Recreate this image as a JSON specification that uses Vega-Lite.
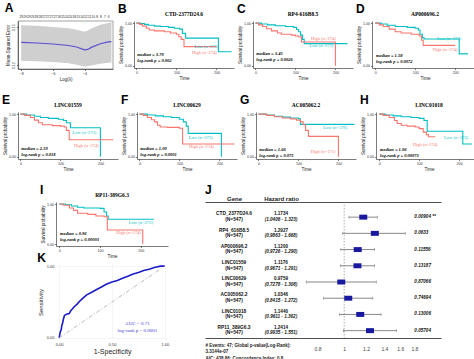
{
"$schema": "https://vega.github.io/schema/vega-lite/v6.json",
"background": "white",
"padding": {"left": 2, "top": 2, "right": 2, "bottom": 2},
"config": {
  "view": {"stroke": null},
  "font": "Liberation Sans",
  "axis": {"labelFontSize": 3.6, "titleFontSize": 4.5, "tickSize": 1.5, "labelPadding": 1, "titlePadding": 1.5, "domainWidth": 0.6, "tickWidth": 0.6, "domainColor": "#222", "tickColor": "#222", "labelColor": "#333", "titleColor": "#222", "titleFontWeight": "normal", "grid": false, "labelFlush": false, "labelOverlap": false}
},
"datasets": {
  "lasso": [
    {"l": -8.0, "m": 0.1380, "lo": 0.1235, "hi": 0.1517},
    {"l": -7.0, "m": 0.1376, "lo": 0.1232, "hi": 0.1512},
    {"l": -6.0, "m": 0.1368, "lo": 0.1226, "hi": 0.1503},
    {"l": -5.0, "m": 0.1356, "lo": 0.1215, "hi": 0.1492},
    {"l": -4.5, "m": 0.1344, "lo": 0.1203, "hi": 0.1480},
    {"l": -4.0, "m": 0.1322, "lo": 0.1190, "hi": 0.1465},
    {"l": -3.8, "m": 0.1325, "lo": 0.1192, "hi": 0.1475},
    {"l": -3.5, "m": 0.1345, "lo": 0.1200, "hi": 0.1495},
    {"l": -3.0, "m": 0.1370, "lo": 0.1212, "hi": 0.1520},
    {"l": -2.5, "m": 0.1385, "lo": 0.1220, "hi": 0.1535},
    {"l": -2.3, "m": 0.1387, "lo": 0.1222, "hi": 0.1540}
  ],
  "lassoN": [
    {"l": -8.0, "n": 29}, {"l": -7.76, "n": 29}, {"l": -7.52, "n": 29}, {"l": -7.28, "n": 29},
    {"l": -7.04, "n": 28}, {"l": -6.8, "n": 28}, {"l": -6.56, "n": 27}, {"l": -6.32, "n": 27},
    {"l": -6.08, "n": 27}, {"l": -5.84, "n": 27}, {"l": -5.6, "n": 26}, {"l": -5.36, "n": 25},
    {"l": -5.12, "n": 24}, {"l": -4.88, "n": 20}, {"l": -4.64, "n": 18}, {"l": -4.4, "n": 15},
    {"l": -4.16, "n": 14}, {"l": -3.92, "n": 12}, {"l": -3.68, "n": 11}, {"l": -3.44, "n": 10},
    {"l": -3.2, "n": 8}, {"l": -2.96, "n": 8}, {"l": -2.72, "n": 7}, {"l": -2.48, "n": 6}
  ],
  "kmB": [
    {"t": 0, "s": 1, "g": "Low"}, {"t": 10, "s": 0.99, "g": "Low"}, {"t": 20, "s": 0.97, "g": "Low"}, {"t": 30, "s": 0.95, "g": "Low"}, {"t": 45, "s": 0.93, "g": "Low"}, {"t": 60, "s": 0.92, "g": "Low"}, {"t": 80, "s": 0.9, "g": "Low"}, {"t": 95, "s": 0.88, "g": "Low"}, {"t": 108, "s": 0.86, "g": "Low"}, {"t": 115, "s": 0.76, "g": "Low"}, {"t": 123, "s": 0.65, "g": "Low"}, {"t": 205, "s": 0.33, "g": "Low"}, {"t": 238, "s": 0.33, "g": "Low"},
    {"t": 0, "s": 1, "g": "High"}, {"t": 8, "s": 0.97, "g": "High"}, {"t": 15, "s": 0.93, "g": "High"}, {"t": 25, "s": 0.88, "g": "High"}, {"t": 32, "s": 0.84, "g": "High"}, {"t": 45, "s": 0.82, "g": "High"}, {"t": 70, "s": 0.8, "g": "High"}, {"t": 85, "s": 0.77, "g": "High"}, {"t": 100, "s": 0.74, "g": "High"}, {"t": 106, "s": 0.68, "g": "High"}, {"t": 112, "s": 0.62, "g": "High"}, {"t": 119, "s": 0.45, "g": "High"}, {"t": 200, "s": 0.45, "g": "High"}
  ],
  "kmC": [
    {"t": 0, "s": 1, "g": "Low"}, {"t": 15, "s": 0.98, "g": "Low"}, {"t": 30, "s": 0.96, "g": "Low"}, {"t": 50, "s": 0.94, "g": "Low"}, {"t": 75, "s": 0.92, "g": "Low"}, {"t": 95, "s": 0.9, "g": "Low"}, {"t": 103, "s": 0.85, "g": "Low"}, {"t": 108, "s": 0.8, "g": "Low"}, {"t": 113, "s": 0.72, "g": "Low"}, {"t": 118, "s": 0.62, "g": "Low"}, {"t": 122, "s": 0.52, "g": "Low"}, {"t": 230, "s": 0.52, "g": "Low"},
    {"t": 0, "s": 1, "g": "High"}, {"t": 8, "s": 0.96, "g": "High"}, {"t": 18, "s": 0.92, "g": "High"}, {"t": 28, "s": 0.87, "g": "High"}, {"t": 40, "s": 0.82, "g": "High"}, {"t": 55, "s": 0.77, "g": "High"}, {"t": 65, "s": 0.74, "g": "High"}, {"t": 90, "s": 0.72, "g": "High"}, {"t": 100, "s": 0.7, "g": "High"}, {"t": 108, "s": 0.68, "g": "High"}, {"t": 115, "s": 0.56, "g": "High"}, {"t": 200, "s": 0, "g": "High"}
  ],
  "kmD": [
    {"t": 0, "s": 1, "g": "Low"}, {"t": 15, "s": 0.98, "g": "Low"}, {"t": 30, "s": 0.95, "g": "Low"}, {"t": 50, "s": 0.92, "g": "Low"}, {"t": 80, "s": 0.9, "g": "Low"}, {"t": 100, "s": 0.88, "g": "Low"}, {"t": 108, "s": 0.84, "g": "Low"}, {"t": 112, "s": 0.74, "g": "Low"}, {"t": 118, "s": 0.66, "g": "Low"}, {"t": 122, "s": 0.63, "g": "Low"}, {"t": 210, "s": 0.28, "g": "Low"}, {"t": 232, "s": 0.28, "g": "Low"},
    {"t": 0, "s": 1, "g": "High"}, {"t": 10, "s": 0.96, "g": "High"}, {"t": 20, "s": 0.92, "g": "High"}, {"t": 35, "s": 0.86, "g": "High"}, {"t": 50, "s": 0.8, "g": "High"}, {"t": 65, "s": 0.77, "g": "High"}, {"t": 90, "s": 0.74, "g": "High"}, {"t": 110, "s": 0.7, "g": "High"}, {"t": 116, "s": 0.6, "g": "High"}, {"t": 120, "s": 0.48, "g": "High"}, {"t": 200, "s": 0.48, "g": "High"}
  ],
  "kmE": [
    {"t": 0, "s": 1, "g": "Low"}, {"t": 15, "s": 0.98, "g": "Low"}, {"t": 35, "s": 0.95, "g": "Low"}, {"t": 50, "s": 0.92, "g": "Low"}, {"t": 70, "s": 0.9, "g": "Low"}, {"t": 95, "s": 0.88, "g": "Low"}, {"t": 108, "s": 0.85, "g": "Low"}, {"t": 115, "s": 0.8, "g": "Low"}, {"t": 125, "s": 0.68, "g": "Low"}, {"t": 200, "s": 0, "g": "Low"},
    {"t": 0, "s": 1, "g": "High"}, {"t": 10, "s": 0.97, "g": "High"}, {"t": 25, "s": 0.92, "g": "High"}, {"t": 35, "s": 0.86, "g": "High"}, {"t": 45, "s": 0.8, "g": "High"}, {"t": 55, "s": 0.75, "g": "High"}, {"t": 80, "s": 0.73, "g": "High"}, {"t": 100, "s": 0.72, "g": "High"}, {"t": 110, "s": 0.7, "g": "High"}, {"t": 115, "s": 0.62, "g": "High"}, {"t": 122, "s": 0.4, "g": "High"}, {"t": 232, "s": 0.4, "g": "High"}
  ],
  "kmF": [
    {"t": 0, "s": 1, "g": "Low"}, {"t": 20, "s": 0.98, "g": "Low"}, {"t": 40, "s": 0.96, "g": "Low"}, {"t": 60, "s": 0.94, "g": "Low"}, {"t": 80, "s": 0.92, "g": "Low"}, {"t": 100, "s": 0.88, "g": "Low"}, {"t": 110, "s": 0.82, "g": "Low"}, {"t": 117, "s": 0.72, "g": "Low"}, {"t": 122, "s": 0.55, "g": "Low"}, {"t": 205, "s": 0, "g": "Low"},
    {"t": 0, "s": 1, "g": "High"}, {"t": 10, "s": 0.97, "g": "High"}, {"t": 20, "s": 0.92, "g": "High"}, {"t": 30, "s": 0.87, "g": "High"}, {"t": 38, "s": 0.82, "g": "High"}, {"t": 45, "s": 0.74, "g": "High"}, {"t": 52, "s": 0.7, "g": "High"}, {"t": 70, "s": 0.69, "g": "High"}, {"t": 100, "s": 0.67, "g": "High"}, {"t": 108, "s": 0.3, "g": "High"}, {"t": 238, "s": 0.3, "g": "High"}
  ],
  "kmG": [
    {"t": 0, "s": 1, "g": "Low"}, {"t": 20, "s": 0.98, "g": "Low"}, {"t": 40, "s": 0.95, "g": "Low"}, {"t": 60, "s": 0.93, "g": "Low"}, {"t": 80, "s": 0.91, "g": "Low"}, {"t": 100, "s": 0.89, "g": "Low"}, {"t": 105, "s": 0.76, "g": "Low"}, {"t": 240, "s": 0.76, "g": "Low"},
    {"t": 0, "s": 1, "g": "High"}, {"t": 20, "s": 0.97, "g": "High"}, {"t": 40, "s": 0.94, "g": "High"}, {"t": 60, "s": 0.91, "g": "High"}, {"t": 80, "s": 0.89, "g": "High"}, {"t": 95, "s": 0.86, "g": "High"}, {"t": 105, "s": 0.82, "g": "High"}, {"t": 112, "s": 0.75, "g": "High"}, {"t": 118, "s": 0.62, "g": "High"}, {"t": 125, "s": 0.48, "g": "High"}, {"t": 200, "s": 0, "g": "High"}
  ],
  "kmH": [
    {"t": 0, "s": 1, "g": "Low"}, {"t": 15, "s": 0.98, "g": "Low"}, {"t": 35, "s": 0.96, "g": "Low"}, {"t": 55, "s": 0.94, "g": "Low"}, {"t": 80, "s": 0.92, "g": "Low"}, {"t": 100, "s": 0.9, "g": "Low"}, {"t": 112, "s": 0.85, "g": "Low"}, {"t": 120, "s": 0.6, "g": "Low"}, {"t": 209, "s": 0.3, "g": "Low"}, {"t": 232, "s": 0.3, "g": "Low"},
    {"t": 0, "s": 1, "g": "High"}, {"t": 10, "s": 0.97, "g": "High"}, {"t": 25, "s": 0.92, "g": "High"}, {"t": 38, "s": 0.85, "g": "High"}, {"t": 45, "s": 0.78, "g": "High"}, {"t": 55, "s": 0.74, "g": "High"}, {"t": 70, "s": 0.72, "g": "High"}, {"t": 90, "s": 0.7, "g": "High"}, {"t": 100, "s": 0.66, "g": "High"}, {"t": 110, "s": 0.58, "g": "High"}, {"t": 118, "s": 0.52, "g": "High"}, {"t": 123, "s": 0.47, "g": "High"}, {"t": 140, "s": 0.47, "g": "High"}
  ],
  "kmI": [
    {"t": 0, "s": 1, "g": "Low"}, {"t": 15, "s": 0.98, "g": "Low"}, {"t": 30, "s": 0.95, "g": "Low"}, {"t": 45, "s": 0.92, "g": "Low"}, {"t": 60, "s": 0.9, "g": "Low"}, {"t": 100, "s": 0.89, "g": "Low"}, {"t": 110, "s": 0.8, "g": "Low"}, {"t": 116, "s": 0.7, "g": "Low"}, {"t": 120, "s": 0.62, "g": "Low"}, {"t": 232, "s": 0.62, "g": "Low"},
    {"t": 0, "s": 1, "g": "High"}, {"t": 10, "s": 0.97, "g": "High"}, {"t": 25, "s": 0.9, "g": "High"}, {"t": 35, "s": 0.84, "g": "High"}, {"t": 45, "s": 0.77, "g": "High"}, {"t": 70, "s": 0.74, "g": "High"}, {"t": 90, "s": 0.7, "g": "High"}, {"t": 110, "s": 0.68, "g": "High"}, {"t": 118, "s": 0.35, "g": "High"}, {"t": 205, "s": 0, "g": "High"}
  ],
  "roc": [
    {"fpr": 0, "tpr": 0}, {"fpr": 0.005, "tpr": 0.04}, {"fpr": 0.01, "tpr": 0.08}, {"fpr": 0.02, "tpr": 0.12}, {"fpr": 0.025, "tpr": 0.17}, {"fpr": 0.035, "tpr": 0.22}, {"fpr": 0.04, "tpr": 0.26}, {"fpr": 0.05, "tpr": 0.31}, {"fpr": 0.07, "tpr": 0.33}, {"fpr": 0.095, "tpr": 0.34}, {"fpr": 0.11, "tpr": 0.38}, {"fpr": 0.14, "tpr": 0.43}, {"fpr": 0.17, "tpr": 0.47}, {"fpr": 0.2, "tpr": 0.52}, {"fpr": 0.23, "tpr": 0.56}, {"fpr": 0.26, "tpr": 0.6}, {"fpr": 0.3, "tpr": 0.63}, {"fpr": 0.35, "tpr": 0.67}, {"fpr": 0.4, "tpr": 0.71}, {"fpr": 0.45, "tpr": 0.75}, {"fpr": 0.5, "tpr": 0.78}, {"fpr": 0.55, "tpr": 0.8}, {"fpr": 0.6, "tpr": 0.83}, {"fpr": 0.65, "tpr": 0.86}, {"fpr": 0.7, "tpr": 0.89}, {"fpr": 0.75, "tpr": 0.91}, {"fpr": 0.8, "tpr": 0.94}, {"fpr": 0.86, "tpr": 0.96}, {"fpr": 0.9, "tpr": 0.98}, {"fpr": 0.96, "tpr": 1}, {"fpr": 1, "tpr": 1}
  ],
  "diag": [{"fpr": 0, "tpr": 0}, {"fpr": 1, "tpr": 1}],
  "forest": [
    {"gene": "CTD_2377D24.6", "n": "(N=547)", "hr": "1.1734", "ci": "(1.0406 - 1.323)", "p": "0.00904 **", "est": 1.1734, "lo": 1.0406, "hi": 1.323},
    {"gene": "RP4_616B8.5", "n": "(N=547)", "hr": "1.2927", "ci": "(0.9863 - 1.668)", "p": "0.0633", "est": 1.2927, "lo": 0.9863, "hi": 1.668},
    {"gene": "AP000696.2", "n": "(N=547)", "hr": "1.1200", "ci": "(0.9726 - 1.290)", "p": "0.11556", "est": 1.12, "lo": 0.9726, "hi": 1.29},
    {"gene": "LINC01559", "n": "(N=547)", "hr": "1.1176", "ci": "(0.9671 - 1.291)", "p": "0.13187", "est": 1.1176, "lo": 0.9671, "hi": 1.291},
    {"gene": "LINC00629", "n": "(N=547)", "hr": "0.9759", "ci": "(0.7278 - 1.308)", "p": "0.87066", "est": 0.9759, "lo": 0.7278, "hi": 1.308},
    {"gene": "AC005062.2", "n": "(N=547)", "hr": "1.0346", "ci": "(0.8415 - 1.272)", "p": "0.74694", "est": 1.0346, "lo": 0.8415, "hi": 1.272},
    {"gene": "LINC01018", "n": "(N=547)", "hr": "1.1440", "ci": "(0.9611 - 1.362)", "p": "0.13006", "est": 1.144, "lo": 0.9611, "hi": 1.362},
    {"gene": "RP11_389G6.3", "n": "(N=547)", "hr": "1.2414", "ci": "(0.9935 - 1.551)", "p": "0.05704", "est": 1.2414, "lo": 0.9935, "hi": 1.551}
  ]
},
"spacing": 12,
"vconcat": [
 {"hconcat": [
  {"title": {"text": "A", "anchor": "start", "fontSize": 12, "fontWeight": "bold", "offset": -1},
   "vconcat": [
    {"width": 95, "height": 48, "view": {"stroke": "#444", "strokeWidth": 0.5},
     "layer": [
      {"data": {"name": "lasso"}, "mark": {"type": "area", "color": "#cfcfcf", "opacity": 1},
       "encoding": {"x": {"field": "l", "type": "quantitative", "scale": {"domain": [-8.2, -2.2], "nice": false, "zero": false}, "axis": {"values": [-8, -7, -6, -5, -4, -3], "title": "Log(λ)"}},
        "y": {"field": "lo", "type": "quantitative", "scale": {"domain": [0.117, 0.155], "nice": false, "zero": false}, "axis": {"values": [0.12, 0.13, 0.14, 0.15], "format": ".2f", "labelAngle": 270, "title": "Mean-Squared Error"}},
        "y2": {"field": "hi"}}},
      {"data": {"name": "lasso"}, "mark": {"type": "line", "color": "#5b4fd1", "strokeWidth": 1.2},
       "encoding": {"x": {"field": "l", "type": "quantitative"}, "y": {"field": "m", "type": "quantitative"}}},
      {"data": {"name": "lassoN"}, "mark": {"type": "text", "fontSize": 3.2, "color": "#222", "clip": false},
       "encoding": {"x": {"field": "l", "type": "quantitative"}, "y": {"datum": 0.1585}, "text": {"field": "n", "type": "quantitative"}}}
     ]}
   ]},
  {"title": {"text": "B", "anchor": "start", "fontSize": 12, "fontWeight": "bold", "offset": -4},
   "vconcat": [{"width": 100, "height": 47, "title": {"text": "CTD-2377D24.6", "anchor": "middle", "font": "Liberation Serif", "fontSize": 5.5, "fontWeight": "bold", "offset": 3},
    "layer": [
     {"data": {"name": "kmB"}, "mark": {"type": "line", "interpolate": "step-after", "strokeWidth": 1.1},
      "encoding": {"x": {"field": "t", "type": "quantitative", "scale": {"domain": [-6, 244], "nice": false, "zero": false}, "axis": {"values": [0, 50, 100, 150, 200], "title": "Time"}},
       "y": {"field": "s", "type": "quantitative", "scale": {"domain": [-0.05, 1.05], "nice": false}, "axis": {"values": [0, 0.25, 0.5, 0.75, 1], "format": ".2f", "title": "Survival probability"}},
       "color": {"field": "g", "type": "nominal", "scale": {"domain": ["High", "Low"], "range": ["#F8766D", "#00BFC4"]}, "legend": null}}},
     {"data": {"values": [{}]}, "mark": {"type": "text", "align": "left", "font": "Liberation Serif", "fontStyle": "italic", "fontWeight": "bold", "fontSize": 4.5, "lineHeight": 6},
      "encoding": {"x": {"datum": 2}, "y": {"datum": 0.25}, "text": {"value": ["median = 3.70", "log-rank p = 0.002"]}}},
     {"data": {"values": [{}]}, "mark": {"type": "text", "font": "Liberation Serif", "fontSize": 4.5, "color": "#00BFC4"},
      "encoding": {"x": {"datum": 175}, "y": {"datum": 0.45}, "text": {"value": "Low (n=273)"}}},
     {"data": {"values": [{}]}, "mark": {"type": "text", "font": "Liberation Serif", "fontSize": 4.5, "color": "#F8766D"},
      "encoding": {"x": {"datum": 170}, "y": {"datum": 0.3}, "text": {"value": "High (n=274)"}}}
    ]}]},
  {"title": {"text": "C", "anchor": "start", "fontSize": 12, "fontWeight": "bold", "offset": -4},
   "vconcat": [{"width": 100, "height": 47, "title": {"text": "RP4-616B8.5", "anchor": "middle", "font": "Liberation Serif", "fontSize": 5.5, "fontWeight": "bold", "offset": 3},
    "layer": [
     {"data": {"name": "kmC"}, "mark": {"type": "line", "interpolate": "step-after", "strokeWidth": 1.1},
      "encoding": {"x": {"field": "t", "type": "quantitative", "scale": {"domain": [-6, 244], "nice": false, "zero": false}, "axis": {"values": [0, 50, 100, 150, 200], "title": "Time"}},
       "y": {"field": "s", "type": "quantitative", "scale": {"domain": [-0.05, 1.05], "nice": false}, "axis": {"values": [0, 0.25, 0.5, 0.75, 1], "format": ".2f", "title": "Survival probability"}},
       "color": {"field": "g", "type": "nominal", "scale": {"domain": ["High", "Low"], "range": ["#F8766D", "#00BFC4"]}, "legend": null}}},
     {"data": {"values": [{}]}, "mark": {"type": "text", "align": "left", "font": "Liberation Serif", "fontStyle": "italic", "fontWeight": "bold", "fontSize": 4.5, "lineHeight": 6},
      "encoding": {"x": {"datum": 2}, "y": {"datum": 0.27}, "text": {"value": ["median = 3.45", "log-rank p = 0.0026"]}}},
     {"data": {"values": [{}]}, "mark": {"type": "text", "font": "Liberation Serif", "fontSize": 4.5, "color": "#F8766D"},
      "encoding": {"x": {"datum": 170}, "y": {"datum": 0.63}, "text": {"value": "High (n=274)"}}},
     {"data": {"values": [{}]}, "mark": {"type": "text", "font": "Liberation Serif", "fontSize": 4.5, "color": "#00BFC4"},
      "encoding": {"x": {"datum": 165}, "y": {"datum": 0.46}, "text": {"value": "Low (n=273)"}}}
    ]}]},
  {"title": {"text": "D", "anchor": "start", "fontSize": 12, "fontWeight": "bold", "offset": -4},
   "vconcat": [{"width": 106, "height": 47, "title": {"text": "AP000696.2", "anchor": "middle", "font": "Liberation Serif", "fontSize": 5.5, "fontWeight": "bold", "offset": 3},
    "layer": [
     {"data": {"name": "kmD"}, "mark": {"type": "line", "interpolate": "step-after", "strokeWidth": 1.1},
      "encoding": {"x": {"field": "t", "type": "quantitative", "scale": {"domain": [-8, 257], "nice": false, "zero": false}, "axis": {"values": [0, 50, 100, 150, 200, 250], "title": "Time"}},
       "y": {"field": "s", "type": "quantitative", "scale": {"domain": [-0.05, 1.05], "nice": false}, "axis": {"values": [0, 0.25, 0.5, 0.75, 1], "format": ".2f", "title": "Survival probability"}},
       "color": {"field": "g", "type": "nominal", "scale": {"domain": ["High", "Low"], "range": ["#F8766D", "#00BFC4"]}, "legend": null}}},
     {"data": {"values": [{}]}, "mark": {"type": "text", "align": "left", "font": "Liberation Serif", "fontStyle": "italic", "fontWeight": "bold", "fontSize": 4.5, "lineHeight": 6},
      "encoding": {"x": {"datum": 2}, "y": {"datum": 0.235}, "text": {"value": ["median = 1.58", "log-rank p = 0.0072"]}}},
     {"data": {"values": [{}]}, "mark": {"type": "text", "font": "Liberation Serif", "fontSize": 4.5, "color": "#00BFC4"},
      "encoding": {"x": {"datum": 185}, "y": {"datum": 0.63}, "text": {"value": "Low (n=273)"}}},
     {"data": {"values": [{}]}, "mark": {"type": "text", "font": "Liberation Serif", "fontSize": 4.5, "color": "#F8766D"},
      "encoding": {"x": {"datum": 175}, "y": {"datum": 0.37}, "text": {"value": "High (n=274)"}}}
    ]}]}
 ], "spacing": 3},
 {"hconcat": [
  {"title": {"text": "E", "anchor": "start", "fontSize": 12, "fontWeight": "bold", "offset": -4},
   "vconcat": [{"width": 100, "height": 47, "title": {"text": "LINC01559", "anchor": "middle", "font": "Liberation Serif", "fontSize": 5.5, "fontWeight": "bold", "offset": 3},
    "layer": [
     {"data": {"name": "kmE"}, "mark": {"type": "line", "interpolate": "step-after", "strokeWidth": 1.1},
      "encoding": {"x": {"field": "t", "type": "quantitative", "scale": {"domain": [-6, 244], "nice": false, "zero": false}, "axis": {"values": [0, 50, 100, 150, 200], "title": "Time"}},
       "y": {"field": "s", "type": "quantitative", "scale": {"domain": [-0.05, 1.05], "nice": false}, "axis": {"values": [0, 0.25, 0.5, 0.75, 1], "format": ".2f", "title": "Survival probability"}},
       "color": {"field": "g", "type": "nominal", "scale": {"domain": ["High", "Low"], "range": ["#F8766D", "#00BFC4"]}, "legend": null}}},
     {"data": {"values": [{}]}, "mark": {"type": "text", "align": "left", "font": "Liberation Serif", "fontStyle": "italic", "fontWeight": "bold", "fontSize": 4.5, "lineHeight": 6},
      "encoding": {"x": {"datum": 2}, "y": {"datum": 0.19}, "text": {"value": ["median = 2.59", "log-rank p = 0.018"]}}},
     {"data": {"values": [{}]}, "mark": {"type": "text", "font": "Liberation Serif", "fontSize": 4.5, "color": "#00BFC4"},
      "encoding": {"x": {"datum": 160}, "y": {"datum": 0.55}, "text": {"value": "Low (n=273)"}}},
     {"data": {"values": [{}]}, "mark": {"type": "text", "font": "Liberation Serif", "fontSize": 4.5, "color": "#F8766D"},
      "encoding": {"x": {"datum": 165}, "y": {"datum": 0.26}, "text": {"value": "High (n=274)"}}}
    ]}]},
  {"title": {"text": "F", "anchor": "start", "fontSize": 12, "fontWeight": "bold", "offset": -4},
   "vconcat": [{"width": 100, "height": 47, "title": {"text": "LINC00629", "anchor": "middle", "font": "Liberation Serif", "fontSize": 5.5, "fontWeight": "bold", "offset": 3},
    "layer": [
     {"data": {"name": "kmF"}, "mark": {"type": "line", "interpolate": "step-after", "strokeWidth": 1.1},
      "encoding": {"x": {"field": "t", "type": "quantitative", "scale": {"domain": [-6, 244], "nice": false, "zero": false}, "axis": {"values": [0, 50, 100, 150, 200], "title": "Time"}},
       "y": {"field": "s", "type": "quantitative", "scale": {"domain": [-0.05, 1.05], "nice": false}, "axis": {"values": [0, 0.25, 0.5, 0.75, 1], "format": ".2f", "title": "Survival probability"}},
       "color": {"field": "g", "type": "nominal", "scale": {"domain": ["High", "Low"], "range": ["#F8766D", "#00BFC4"]}, "legend": null}}},
     {"data": {"values": [{}]}, "mark": {"type": "text", "align": "left", "font": "Liberation Serif", "fontStyle": "italic", "fontWeight": "bold", "fontSize": 4.5, "lineHeight": 6},
      "encoding": {"x": {"datum": 2}, "y": {"datum": 0.18}, "text": {"value": ["median = 1.00", "log-rank p = 0.0001"]}}},
     {"data": {"values": [{}]}, "mark": {"type": "text", "font": "Liberation Serif", "fontSize": 4.5, "color": "#00BFC4"},
      "encoding": {"x": {"datum": 153}, "y": {"datum": 0.45}, "text": {"value": "Low (n=273)"}}},
     {"data": {"values": [{}]}, "mark": {"type": "text", "font": "Liberation Serif", "fontSize": 4.5, "color": "#F8766D"},
      "encoding": {"x": {"datum": 155}, "y": {"datum": 0.22}, "text": {"value": "High (n=274)"}}}
    ]}]},
  {"title": {"text": "G", "anchor": "start", "fontSize": 12, "fontWeight": "bold", "offset": -4},
   "vconcat": [{"width": 100, "height": 47, "title": {"text": "AC005062.2", "anchor": "middle", "font": "Liberation Serif", "fontSize": 5.5, "fontWeight": "bold", "offset": 3},
    "layer": [
     {"data": {"name": "kmG"}, "mark": {"type": "line", "interpolate": "step-after", "strokeWidth": 1.1},
      "encoding": {"x": {"field": "t", "type": "quantitative", "scale": {"domain": [-6, 244], "nice": false, "zero": false}, "axis": {"values": [0, 50, 100, 150, 200], "title": "Time"}},
       "y": {"field": "s", "type": "quantitative", "scale": {"domain": [-0.05, 1.05], "nice": false}, "axis": {"values": [0, 0.25, 0.5, 0.75, 1], "format": ".2f", "title": "Survival probability"}},
       "color": {"field": "g", "type": "nominal", "scale": {"domain": ["High", "Low"], "range": ["#F8766D", "#00BFC4"]}, "legend": null}}},
     {"data": {"values": [{}]}, "mark": {"type": "text", "align": "left", "font": "Liberation Serif", "fontStyle": "italic", "fontWeight": "bold", "fontSize": 4.5, "lineHeight": 6},
      "encoding": {"x": {"datum": 2}, "y": {"datum": 0.17}, "text": {"value": ["median = 1.66", "log-rank p = 0.075"]}}},
     {"data": {"values": [{}]}, "mark": {"type": "text", "font": "Liberation Serif", "fontSize": 4.5, "color": "#00BFC4"},
      "encoding": {"x": {"datum": 192}, "y": {"datum": 0.67}, "text": {"value": "Low (n=376)"}}},
     {"data": {"values": [{}]}, "mark": {"type": "text", "font": "Liberation Serif", "fontSize": 4.5, "color": "#F8766D"},
      "encoding": {"x": {"datum": 162}, "y": {"datum": 0.11}, "text": {"value": "High (n=171)"}}}
    ]}]},
  {"title": {"text": "H", "anchor": "start", "fontSize": 12, "fontWeight": "bold", "offset": -4},
   "vconcat": [{"width": 106, "height": 47, "title": {"text": "LINC01018", "anchor": "middle", "font": "Liberation Serif", "fontSize": 5.5, "fontWeight": "bold", "offset": 3},
    "layer": [
     {"data": {"name": "kmH"}, "mark": {"type": "line", "interpolate": "step-after", "strokeWidth": 1.1},
      "encoding": {"x": {"field": "t", "type": "quantitative", "scale": {"domain": [-8, 257], "nice": false, "zero": false}, "axis": {"values": [0, 50, 100, 150, 200, 250], "title": "Time"}},
       "y": {"field": "s", "type": "quantitative", "scale": {"domain": [-0.05, 1.05], "nice": false}, "axis": {"values": [0, 0.25, 0.5, 0.75, 1], "format": ".2f", "title": "Survival probability"}},
       "color": {"field": "g", "type": "nominal", "scale": {"domain": ["High", "Low"], "range": ["#F8766D", "#00BFC4"]}, "legend": null}}},
     {"data": {"values": [{}]}, "mark": {"type": "text", "align": "left", "font": "Liberation Serif", "fontStyle": "italic", "fontWeight": "bold", "fontSize": 4.5, "lineHeight": 6},
      "encoding": {"x": {"datum": 2}, "y": {"datum": 0.165}, "text": {"value": ["median = 1.06", "log-rank p = 0.00073"]}}},
     {"data": {"values": [{}]}, "mark": {"type": "text", "font": "Liberation Serif", "fontSize": 4.5, "color": "#00BFC4"},
      "encoding": {"x": {"datum": 192}, "y": {"datum": 0.44}, "text": {"value": "Low (n=273)"}}},
     {"data": {"values": [{}]}, "mark": {"type": "text", "font": "Liberation Serif", "fontSize": 4.5, "color": "#F8766D"},
      "encoding": {"x": {"datum": 115}, "y": {"datum": 0.28}, "text": {"value": "High (n=274)"}}}
    ]}]}
 ], "spacing": 3},
 {"hconcat": [
  {"width": 19, "height": 10, "data": {"values": [{}]}, "mark": {"type": "point", "opacity": 0}},
  {"spacing": -8, "vconcat": [
   {"title": {"text": "I", "anchor": "start", "fontSize": 12, "fontWeight": "bold", "offset": -4},
    "vconcat": [{"width": 112, "height": 44, "title": {"text": "RP11-389G6.3", "anchor": "middle", "font": "Liberation Serif", "fontSize": 5.5, "fontWeight": "bold", "offset": 3},
     "layer": [
      {"data": {"name": "kmI"}, "mark": {"type": "line", "interpolate": "step-after", "strokeWidth": 1.1},
       "encoding": {"x": {"field": "t", "type": "quantitative", "scale": {"domain": [-8, 267], "nice": false, "zero": false}, "axis": {"values": [0, 50, 100, 150, 200, 250], "title": "Time"}},
        "y": {"field": "s", "type": "quantitative", "scale": {"domain": [-0.05, 1.05], "nice": false}, "axis": {"values": [0, 0.25, 0.5, 0.75, 1], "format": ".2f", "title": "Survival probability"}},
        "color": {"field": "g", "type": "nominal", "scale": {"domain": ["High", "Low"], "range": ["#F8766D", "#00BFC4"]}, "legend": null}}},
      {"data": {"values": [{}]}, "mark": {"type": "text", "align": "left", "font": "Liberation Serif", "fontStyle": "italic", "fontWeight": "bold", "fontSize": 4.5, "lineHeight": 6},
       "encoding": {"x": {"datum": 2}, "y": {"datum": 0.24}, "text": {"value": ["median = 0.96", "log-rank p = 0.00003"]}}},
      {"data": {"values": [{}]}, "mark": {"type": "text", "font": "Liberation Serif", "fontSize": 4.5, "color": "#00BFC4"},
       "encoding": {"x": {"datum": 200}, "y": {"datum": 0.53}, "text": {"value": "Low (n=273)"}}},
      {"data": {"values": [{}]}, "mark": {"type": "text", "font": "Liberation Serif", "fontSize": 4.5, "color": "#F8766D"},
       "encoding": {"x": {"datum": 170}, "y": {"datum": 0.27}, "text": {"value": "High (n=274)"}}}
     ]}]},
   {"title": {"text": "K", "anchor": "start", "fontSize": 12, "fontWeight": "bold", "offset": -2},
    "vconcat": [{"width": 112, "height": 76,
     "layer": [
      {"data": {"name": "roc"}, "mark": {"type": "line", "color": "#1c1cc8", "strokeWidth": 1.6},
       "encoding": {"x": {"field": "fpr", "type": "quantitative", "scale": {"domain": [-0.03, 1.03], "nice": false}, "axis": {"values": [0, 0.25, 0.5, 0.75, 1], "format": ".2f", "title": "1-Specificity", "titleFontSize": 7, "labelFontSize": 4, "grid": true, "gridColor": "#ebebeb", "gridWidth": 0.5, "domain": false, "ticks": false, "labelPadding": 2}},
        "y": {"field": "tpr", "type": "quantitative", "scale": {"domain": [-0.03, 1.03], "nice": false}, "axis": {"values": [0, 0.25, 0.5, 0.75, 1], "format": ".2f", "title": "Sensitivity", "titleFontSize": 6, "labelFontSize": 4, "grid": true, "gridColor": "#ebebeb", "gridWidth": 0.5, "domain": false, "ticks": false, "labelPadding": 2, "titlePadding": 3}}}},
      {"data": {"name": "diag"}, "mark": {"type": "line", "color": "#a8a8a8", "strokeWidth": 0.8, "strokeDash": [4, 2, 1, 2]},
       "encoding": {"x": {"field": "fpr", "type": "quantitative"}, "y": {"field": "tpr", "type": "quantitative"}}},
      {"data": {"values": [{}]}, "mark": {"type": "text", "font": "Liberation Serif", "fontSize": 5, "color": "#3a3acf", "lineHeight": 7},
       "encoding": {"x": {"datum": 0.74}, "y": {"datum": 0.21}, "text": {"value": ["AUC = 0.71", "log-rank p = 0.0001"]}}}
     ]}]}
  ]},
  {"width": 36, "height": 10, "data": {"values": [{}]}, "mark": {"type": "point", "opacity": 0}},
  {"title": {"text": "J", "anchor": "start", "fontSize": 12, "fontWeight": "bold", "offset": -2},
   "spacing": 0, "bounds": "flush",
   "hconcat": [
    {"width": 58, "height": 136, "data": {"name": "forest"}, "resolve": {"axis": {"x": "independent"}},
     "layer": [
      {"mark": {"type": "text", "fontWeight": "bold", "fontSize": 4.8, "dy": -2.8, "color": "#111"},
       "encoding": {"x": {"datum": 0.5, "type": "quantitative", "scale": {"domain": [0, 1]}, "axis": {"orient": "top", "labels": false, "ticks": false, "title": "Gene", "titleFontSize": 6, "titleFontWeight": "bold", "titlePadding": 1, "domainWidth": 0.8}},
        "y": {"field": "gene", "type": "nominal", "sort": null, "scale": {"type": "point", "padding": 0.694, "align": 0.673}, "axis": null},
        "text": {"field": "gene"}}},
      {"mark": {"type": "text", "fontWeight": "bold", "fontSize": 4.8, "dy": 2.8, "color": "#111"},
       "encoding": {"x": {"datum": 0.5, "type": "quantitative", "axis": {"orient": "bottom", "labels": false, "ticks": false, "title": ["# Events: 47; Global p-value(Log-Rank):", "3.3144e-07", "AIC: 438.86; Concordance Index: 0.8"], "titleAnchor": "start", "titleAlign": "left", "titleFontSize": 4.5, "titleFontWeight": "bold", "titlePadding": 4, "titleLineHeight": 6.5, "domainWidth": 0.8}},
        "y": {"field": "gene", "type": "nominal", "sort": null, "scale": {"type": "point", "padding": 0.694, "align": 0.673}, "axis": null},
        "text": {"field": "n"}}}
     ]},
    {"width": 36, "height": 136, "data": {"name": "forest"}, "resolve": {"axis": {"x": "independent"}},
     "layer": [
      {"mark": {"type": "text", "fontWeight": "bold", "fontSize": 4.6, "dy": -2.8, "color": "#111"},
       "encoding": {"x": {"datum": 0.5, "type": "quantitative", "scale": {"domain": [0, 1]}, "axis": {"orient": "top", "labels": false, "ticks": false, "title": "Hazard ratio", "titleFontSize": 6, "titleFontWeight": "bold", "titlePadding": 1, "domainWidth": 0.8}},
        "y": {"field": "gene", "type": "nominal", "sort": null, "scale": {"type": "point", "padding": 0.694, "align": 0.673}, "axis": null},
        "text": {"field": "hr"}}},
      {"mark": {"type": "text", "fontWeight": "bold", "fontStyle": "italic", "fontSize": 4.6, "dy": 2.8, "color": "#111"},
       "encoding": {"x": {"datum": 0.5, "type": "quantitative", "axis": {"orient": "bottom", "labels": false, "ticks": false, "title": null, "domainWidth": 0.8}},
        "y": {"field": "gene", "type": "nominal", "sort": null, "scale": {"type": "point", "padding": 0.694, "align": 0.673}, "axis": null},
        "text": {"field": "ci"}}}
     ]},
    {"width": 142, "height": 136, "resolve": {"axis": {"x": "independent"}},
     "layer": [
      {"data": {"values": [{}]}, "mark": {"type": "rule", "color": "#777", "strokeWidth": 0.6, "strokeDash": [1.5, 1.5]},
       "encoding": {"x": {"datum": 1, "type": "quantitative", "scale": {"type": "log", "domain": [0.685, 2.25], "nice": false}, "axis": {"orient": "top", "labels": false, "ticks": false, "title": null, "domainWidth": 0.8}}}},
      {"data": {"name": "forest"}, "mark": {"type": "rule", "color": "#555", "strokeWidth": 0.7},
       "encoding": {"x": {"field": "lo", "type": "quantitative", "axis": {"orient": "bottom", "values": [0.8, 1, 1.2, 1.4, 1.6, 1.8], "format": "~g", "ticks": false, "title": null, "labelFontSize": 5, "labelPadding": 8, "labelColor": "#444", "domainWidth": 0.8}},
        "x2": {"field": "hi"},
        "y": {"field": "gene", "type": "nominal", "sort": null, "scale": {"type": "point", "padding": 0.694, "align": 0.673}, "axis": null}}},
      {"data": {"name": "forest"}, "mark": {"type": "tick", "orient": "vertical", "size": 3, "thickness": 0.6, "color": "#555"},
       "encoding": {"x": {"field": "lo", "type": "quantitative", "axis": null},
        "y": {"field": "gene", "type": "nominal", "sort": null, "axis": null}}},
      {"data": {"name": "forest"}, "mark": {"type": "tick", "orient": "vertical", "size": 3, "thickness": 0.6, "color": "#555"},
       "encoding": {"x": {"field": "hi", "type": "quantitative", "axis": null},
        "y": {"field": "gene", "type": "nominal", "sort": null, "axis": null}}},
      {"data": {"name": "forest"}, "mark": {"type": "point", "shape": "M-1,-0.62H1V0.62H-1Z", "size": 64, "filled": true, "color": "#1818a0", "opacity": 1},
       "encoding": {"x": {"field": "est", "type": "quantitative", "axis": null},
        "y": {"field": "gene", "type": "nominal", "sort": null, "axis": null}}},
      {"data": {"name": "forest"}, "mark": {"type": "text", "align": "left", "fontWeight": "bold", "fontStyle": "italic", "fontSize": 4.6, "color": "#111"},
       "encoding": {"x": {"datum": 1.8, "type": "quantitative", "axis": null},
        "y": {"field": "gene", "type": "nominal", "sort": null, "axis": null},
        "text": {"field": "p"}}}
     ]}
   ]}
 ], "spacing": 0}
]
}
